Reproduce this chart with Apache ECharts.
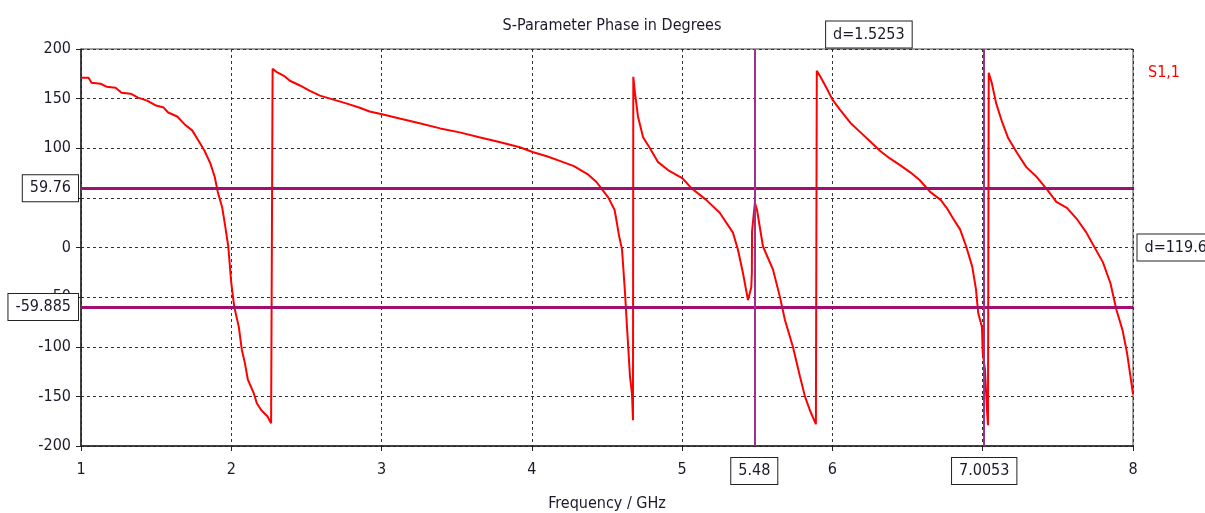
<!DOCTYPE html>
<html>
<head>
<meta charset="utf-8">
<title>S-Parameter Phase in Degrees</title>
<script src="https://cdn.jsdelivr.net/npm/echarts@6/dist/echarts.min.js"></script>
<style>
    html, body { margin: 0; padding: 0; background: #fff; }
    #echart1 { width: 1205px; height: 513px; }
</style>
</head>
<body>
<div id="echart1"></div>
<script>
    'use strict'

    /*-----data-----*/
    var freqGHz = [
        1.00, 1.05, 1.07, 1.13, 1.17, 1.23, 1.27, 1.33, 1.38, 1.44,
        1.50, 1.55, 1.58, 1.64, 1.69, 1.74, 1.78, 1.82, 1.86, 1.89,
        1.91, 1.94, 1.96, 1.98, 2.00, 2.02, 2.05, 2.07, 2.09, 2.11,
        2.15, 2.17, 2.20, 2.24, 2.265, 2.275,
        2.275, 2.30, 2.35, 2.39, 2.46, 2.52, 2.59, 2.68, 2.77, 2.86,
        2.92, 3.01, 3.12, 3.26, 3.39, 3.52, 3.65, 3.79, 3.92, 4.01,
        4.10, 4.19, 4.28, 4.37, 4.43, 4.47, 4.51, 4.55, 4.56, 4.58,
        4.60, 4.62, 4.633, 4.653, 4.666, 4.673,
        4.675, 4.686, 4.706, 4.74, 4.786, 4.84, 4.906, 5.00, 5.06, 5.16,
        5.25, 5.338, 5.371, 5.405, 5.438, 5.451, 5.46, 5.464, 5.465, 5.484,
        5.498, 5.538, 5.604, 5.651, 5.684, 5.737, 5.784, 5.817, 5.85, 5.89,
        5.896,
        5.896, 5.92, 5.96, 6.00, 6.05, 6.12, 6.18, 6.25, 6.32, 6.38,
        6.45, 6.52, 6.58, 6.65, 6.72, 6.76, 6.80, 6.85, 6.89, 6.93,
        6.955, 6.97, 6.995, 7.00, 7.015, 7.028, 7.035, 7.04,
        7.04, 7.06, 7.09, 7.13, 7.17, 7.23, 7.29, 7.36, 7.43, 7.49,
        7.56, 7.63, 7.69, 7.73, 7.80, 7.85, 7.89, 7.93, 7.96, 7.99,
        8.00
    ];
    var phaseDeg = [
        171, 171, 166, 165, 162, 161, 156, 155, 151, 148,
        143, 141, 136, 132, 124, 118, 108, 98, 85, 71,
        56, 40, 21, 1, -36, -60, -80, -103, -116, -133,
        -147, -157, -164, -170, -177, -179,
        180, 177, 173, 168, 163, 158, 153, 149, 145, 140.5,
        137, 134, 130, 125, 120, 116, 111, 106, 101, 96,
        92, 87, 82, 74, 66, 58, 50, 38, 30, 12,
        -2, -46, -80, -130, -147, -174,
        172, 156, 132, 111, 100, 86, 78, 70, 60, 48,
        35, 15, -2, -26, -53, -55, -40, -25, 16, 45,
        38, 1, -22, -50, -73, -100, -130, -150, -164, -178,
        -179,
        178, 172, 161, 149, 139, 125.5, 117, 107, 97, 90,
        83, 75.5, 68, 56, 48, 40, 30, 18, 1, -19,
        -42, -66, -80, -106, -123, -163, -179, -179,
        176, 166, 145, 126, 110, 95, 81, 71, 58, 46,
        40, 28, 15, 4, -15, -36, -63, -83, -106, -137,
        -148
    ];
    var markerFreqs = [5.48, 7.0053];
    var markerPhases = [59.76, -59.885];

    /*-----echart1-----*/
    var fontName = "'DejaVu Sans Condensed', 'DejaVu Sans', sans-serif";
    var textColor = '#1a1a2a';
    var boxLabel = {
        show: true,
        color: textColor,
        fontFamily: fontName,
        fontSize: 16,
        backgroundColor: '#fff',
        borderColor: '#222',
        borderWidth: 1,
        padding: [5, 7]
    };

    var seriesData = freqGHz.map(function (f, i) {
        return [f, phaseDeg[i]];
    });

    var dFreq = (markerFreqs[1] - markerFreqs[0]).toFixed(4);
    var dPhase = (markerPhases[0] - markerPhases[1]).toFixed(3);

    var chart = document.getElementById('echart1');
    var lineChart = echarts.init(chart);
    var option = {
        animation: false,
        title: {
            text: 'S-Parameter Phase in Degrees',
            left: 607,
            textAlign: 'center',
            top: 13,
            textStyle: {
                fontFamily: fontName,
                fontSize: 16,
                fontWeight: 'normal',
                color: textColor
            }
        },
        legend: {
            data: ['S1,1'],
            left: 1138,
            top: 60,
            icon: 'none',
            itemWidth: 0,
            itemHeight: 0,
            textStyle: {
                fontFamily: fontName,
                fontSize: 16,
                color: '#ff0000'
            }
        },
        grid: {
            top: 49,
            right: 72,
            bottom: 67,
            left: 81,
            outerBoundsMode: 'none',
            show: true,
            borderColor: '#444',
            borderWidth: 1
        },
        xAxis: {
            type: 'value',
            min: 1,
            max: 8,
            interval: 1,
            name: 'Frequency / GHz',
            nameLocation: 'middle',
            nameGap: 50,
            nameTextStyle: {
                fontFamily: fontName,
                fontSize: 16,
                color: textColor
            },
            axisLine: {
                onZero: false,
                lineStyle: {
                    color: '#222',
                    width: 1.5
                }
            },
            axisTick: {
                show: true,
                length: 5,
                lineStyle: {
                    color: '#222'
                }
            },
            axisLabel: {
                fontFamily: fontName,
                fontSize: 16,
                color: textColor,
                margin: 16
            },
            splitLine: {
                lineStyle: {
                    color: '#333',
                    type: [3, 3]
                }
            }
        },
        yAxis: {
            type: 'value',
            min: -200,
            max: 200,
            interval: 50,
            axisLine: {
                show: true,
                onZero: false,
                lineStyle: {
                    color: '#222',
                    width: 1.5
                }
            },
            axisTick: {
                show: true,
                length: 5,
                lineStyle: {
                    color: '#222'
                }
            },
            axisLabel: {
                fontFamily: fontName,
                fontSize: 16,
                color: textColor,
                margin: 10
            },
            splitLine: {
                lineStyle: {
                    color: '#333',
                    type: [3, 3]
                }
            }
        },
        series: [{
            name: 'S1,1',
            type: 'line',
            data: seriesData,
            showSymbol: false,
            symbol: 'none',
            color: '#ff0000',
            lineStyle: {
                color: '#ff0000',
                width: 2
            },
            markLine: {
                symbol: 'none',
                silent: true,
                label: boxLabel,
                data: [{
                    yAxis: markerPhases[0],
                    label: { position: 'start', distance: 3, formatter: String(markerPhases[0]) },
                    lineStyle: { color: '#a0106c', width: 3, type: 'solid' }
                }, {
                    yAxis: markerPhases[1],
                    label: { position: 'start', distance: 3, formatter: String(markerPhases[1]) },
                    lineStyle: { color: '#a0106c', width: 3, type: 'solid' }
                }, {
                    xAxis: markerFreqs[0],
                    label: { position: 'start', distance: 12, formatter: String(markerFreqs[0]) },
                    lineStyle: { color: '#a0308a', width: 2, type: 'solid' }
                }, {
                    xAxis: markerFreqs[1],
                    label: { position: 'start', distance: 12, formatter: String(markerFreqs[1]) },
                    lineStyle: { color: '#a0308a', width: 2, type: 'solid' }
                }]
            },
            markPoint: {
                symbol: 'rect',
                symbolSize: 1,
                silent: true,
                itemStyle: { color: 'rgba(0,0,0,0)' },
                label: boxLabel,
                data: [{
                    coord: [(markerFreqs[0] + markerFreqs[1]) / 2, 200],
                    label: { position: 'top', distance: 1, formatter: 'd=' + dFreq }
                }, {
                    coord: [8, (markerPhases[0] + markerPhases[1]) / 2],
                    label: { position: 'right', distance: 4, formatter: 'd=' + dPhase }
                }]
            }
        }]
    };
    lineChart.setOption(option);
    window.addEventListener('resize', function () {
        lineChart.resize();
    })
</script>
</body>
</html>
